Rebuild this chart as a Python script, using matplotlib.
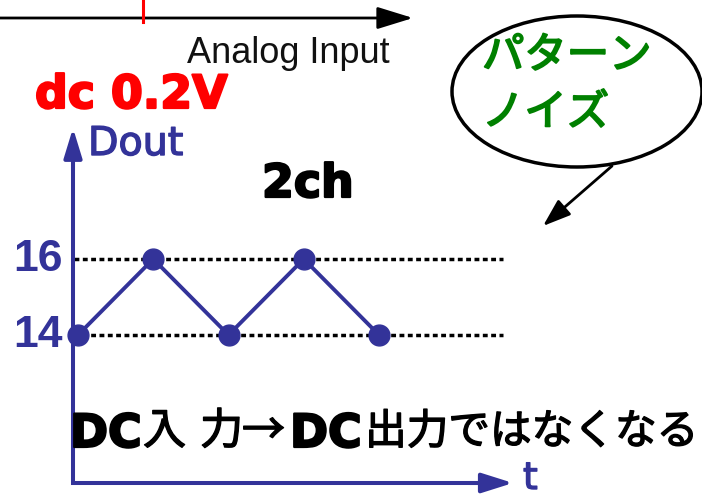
import matplotlib
matplotlib.use('Agg')
import matplotlib.pyplot as plt
from matplotlib.patches import Ellipse
from matplotlib.lines import Line2D
import matplotlib.patheffects as pe

# ---- data ----
t = [0, 1, 2, 3, 4]
dout = [14, 16, 14, 16, 14]
levels = [16, 14]
level_labels = ['16', '14']

W, H = 702, 498
fig = plt.figure(figsize=(W / 100, H / 100), dpi=100)
fig.patch.set_facecolor('white')
ax = fig.add_axes([0, 0, 1, 1])
ax.set_xlim(-78 / 75.25, (W - 78) / 75.25)
ax.set_ylim(14 - (H - 335) / 38, 14 + 335 / 38)
ax.axis('off')

FT = fig.transFigure
BLUE = '#333399'
JP = ['Noto Sans CJK JP', 'DejaVu Sans']


def P(x, y):
    return (x / W, 1 - y / H)


def heavy(c, lw=1.5):
    return [pe.withStroke(linewidth=lw, foreground=c)]


def arrow(p0, p1, color, lw, hl, hw):
    ax.annotate('', xy=P(*p1), xytext=P(*p0), xycoords=FT, textcoords=FT,
                arrowprops=dict(arrowstyle=f'-|>,head_length={hl},head_width={hw}',
                                color=color, lw=lw, shrinkA=0, shrinkB=0,
                                mutation_scale=10))


# ---- top input axis ----
arrow((0, 18), (413, 18), 'black', 2.0, 2.2, 0.68)
fig.add_artist(Line2D([143 / W, 143 / W], [1, 1 - 22 / H], transform=FT,
                      color='red', lw=2.2))
fig.text(187 / W, 1 - 63 / H, 'Analog Input', ha='left', va='baseline',
         fontsize=26, family='Liberation Sans', color='#111111')
fig.text(35 / W, 1 - 108 / H, 'dc 0.2V', ha='left', va='baseline',
         fontsize=33, family='DejaVu Sans', weight='bold', color='red',
         path_effects=heavy('red', 1.6))

# ---- speech bubble ----
arrow((612, 166), (543, 226), 'black', 2.0, 1.7, 0.6)
fig.add_artist(Ellipse(P(577, 91.5), 250 / W, 151 / H, transform=FT,
                       facecolor='white', edgecolor='black', lw=2.5))
fig.text(482 / W, 1 - 68 / H, 'パターン', ha='left', va='baseline',
         fontsize=30.5, family=JP, color='#008000',
         path_effects=heavy('#008000', 1.4))
fig.text(482 / W, 1 - 125 / H, 'ノイズ', ha='left', va='baseline',
         fontsize=30.5, family=JP, color='#008000',
         path_effects=heavy('#008000', 1.4))

# ---- Dout vs t plot ----
ax.hlines(levels, -0.05, 5.65, colors='black', linestyles=(0, (1.4, 1.0)),
          lw=2.5)
ax.plot(t, dout, color=BLUE, lw=2.8, marker='o', ms=15, mfc=BLUE, mec=BLUE,
        zorder=4, clip_on=False)
fig.add_artist(Line2D([73 / W, 73 / W, 500 / W], [1 - 150 / H, 1 - 483 / H, 1 - 483 / H],
                      transform=FT, color=BLUE, lw=2.9, solid_joinstyle='miter',
                      solid_capstyle='butt'))
arrow((73, 170), (73, 128), BLUE, 2.9, 1.8, 0.55)
arrow((470, 483), (513, 483), BLUE, 2.9, 1.9, 0.6)

for lv, lab in zip(levels, level_labels):
    ax.text(-0.2, lv, lab, transform=ax.transData, ha='right', va='center',
            fontsize=32, family='Liberation Sans', weight='bold', color=BLUE)

fig.text(88 / W, 1 - 155 / H, 'Dout', ha='left', va='baseline', fontsize=28.5,
         family='DejaVu Sans', color=BLUE, path_effects=heavy(BLUE, 1.0))
fig.text(523 / W, 1 - 497 / H, 't', ha='left', va='bottom', fontsize=27,
         family='DejaVu Sans', color=BLUE, path_effects=heavy(BLUE, 1.0))
fig.text(262 / W, 1 - 197 / H, '2ch', ha='left', va='baseline', fontsize=33,
         family='DejaVu Sans', weight='bold', color='black',
         path_effects=heavy('black', 1.6))

# ---- bottom message ----
yb = 1 - 447 / H
yj = 1 - 444 / H
fig.text(70 / W, yb, 'DC', ha='left', va='baseline', fontsize=33,
         family='DejaVu Sans', weight='bold', color='black',
         path_effects=heavy('black', 1.6))
fig.text(143 / W, yj, '入', ha='left', va='baseline', fontsize=31, family=JP,
         path_effects=heavy('black', 1.0))
fig.text(200 / W, yj, '力', ha='left', va='baseline', fontsize=31, family=JP,
         path_effects=heavy('black', 1.0))
fig.text(242 / W, yj, '→', ha='left', va='baseline', fontsize=31, family=JP,
         path_effects=heavy('black', 1.0))
fig.text(290 / W, yb, 'DC', ha='left', va='baseline', fontsize=33,
         family='DejaVu Sans', weight='bold', color='black',
         path_effects=heavy('black', 1.6))
fig.text(365 / W, yj, '出力ではなくなる', ha='left', va='baseline', fontsize=30,
         family=JP, path_effects=heavy('black', 1.0))

fig.savefig('out.png', dpi=100, facecolor='white')
